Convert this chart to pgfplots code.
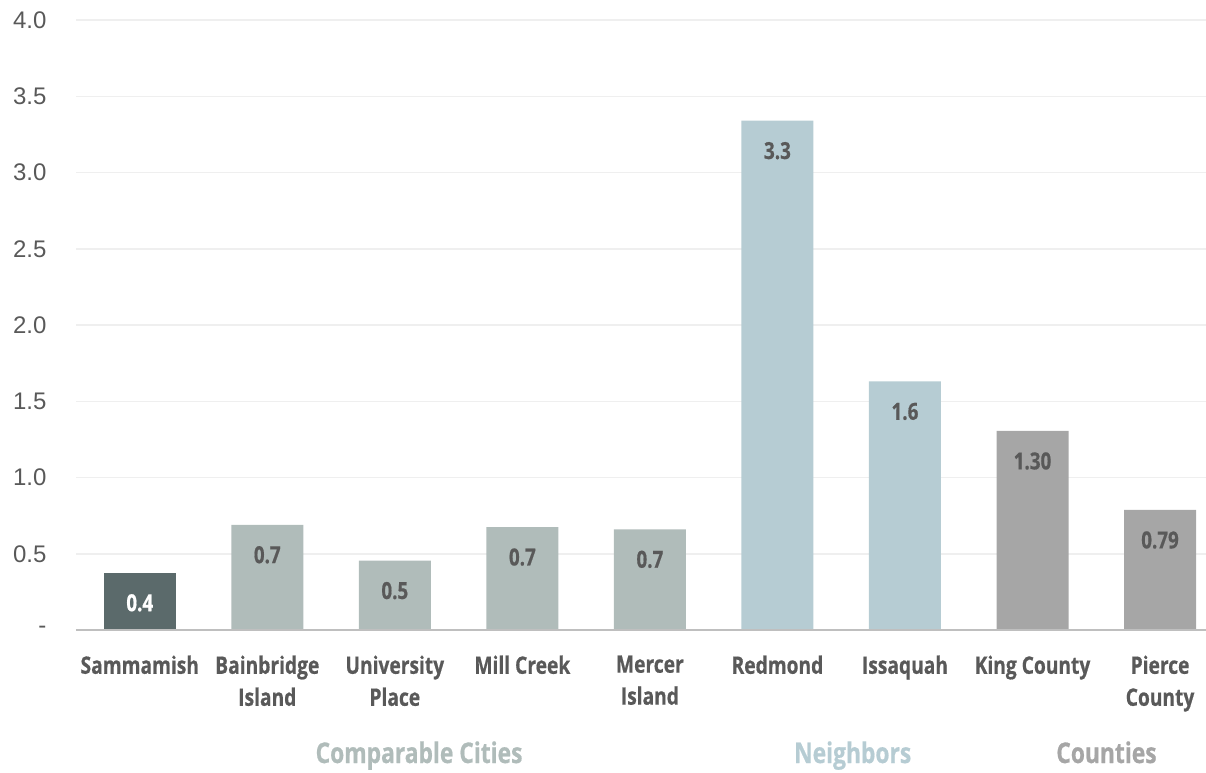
\documentclass[border=0pt]{standalone}
\usepackage{pgfplots}
\pgfplotsset{compat=1.18}
\usepackage{fontspec}
\setmainfont{Liberation Sans}
\newfontfamily\cond[FakeStretch=0.8,BoldFeatures={FakeBold=0.6}]{Open Sans}
\definecolor{txt}{HTML}{595959}
\definecolor{sam}{HTML}{5B6A6B}
\definecolor{comp}{HTML}{B0BCBA}
\definecolor{neigh}{HTML}{B6CCD3}
\definecolor{cnty}{HTML}{A6A6A6}
\definecolor{gridc}{HTML}{EFEFEF}
\definecolor{axc}{HTML}{BFBFBF}
\begin{document}
\begin{tikzpicture}
\useasboundingbox (-76pt,-142pt) rectangle (1130pt,630pt);
\begin{axis}[
  at={(0,0)}, anchor=south west,
  scale only axis,
  width=1130pt, height=610pt,
  xmin=-0.5, xmax=8.36,
  ymin=0, ymax=4,
  ybar, bar width=72pt, bar shift=0pt,
  axis line style={draw=none},
  clip=false,
  ymajorgrids, grid style={gridc, line width=1.5pt},
  major tick length=0pt,
  ytick={0,0.5,1,1.5,2,2.5,3,3.5,4},
  yticklabels={-,0.5,1.0,1.5,2.0,2.5,3.0,3.5,4.0},
  yticklabel style={font=\fontsize{24}{28}\selectfont, text=txt, anchor=east, xshift=-26pt},
  xtick={0,1,2,3,4,5,6,7,8},
  xticklabels={Sammamish,{Bainbridge\\Island},{University\\Place},Mill Creek,{Mercer\\Island},Redmond,Issaquah,King County,{Pierce\\County}},
  xticklabel style={font=\cond\bfseries\fontsize{24}{32}\selectfont, text=txt, align=center, anchor=north, yshift=-22pt},
  point meta=explicit symbolic,
  nodes near coords={\pgfplotspointmeta},
  every node near coord/.append style={font=\cond\bfseries\fontsize{23.5}{28}\selectfont, text=txt, anchor=center, yshift=-30pt},
]
\addplot[fill=sam, draw=none, every node near coord/.append style={text=white}] coordinates {(0,0.375) [0.4]};
\addplot[fill=comp, draw=none] coordinates {(1,0.69) [0.7] (2,0.455) [0.5] (3,0.675) [0.7] (4,0.66) [0.7]};
\addplot[fill=neigh, draw=none] coordinates {(5,3.34) [3.3] (6,1.63) [1.6]};
\addplot[fill=cnty, draw=none] coordinates {(7,1.305) [1.30] (8,0.787) [0.79]};
\draw[axc, line width=2.5pt] (axis cs:-0.5,0) -- (axis cs:8.36,0);
\node[anchor=base, font=\cond\bfseries\fontsize{28.5}{30}\selectfont, text=comp] at ([yshift=-133pt]axis cs:2.19,0) {Comparable Cities};
\node[anchor=base, font=\cond\bfseries\fontsize{28.5}{30}\selectfont, text=neigh] at ([yshift=-133pt]axis cs:5.59,0) {Neighbors};
\node[anchor=base, font=\cond\bfseries\fontsize{28.5}{30}\selectfont, text=cnty] at ([yshift=-133pt]axis cs:7.58,0) {Counties};
\end{axis}
\end{tikzpicture}
\end{document}
